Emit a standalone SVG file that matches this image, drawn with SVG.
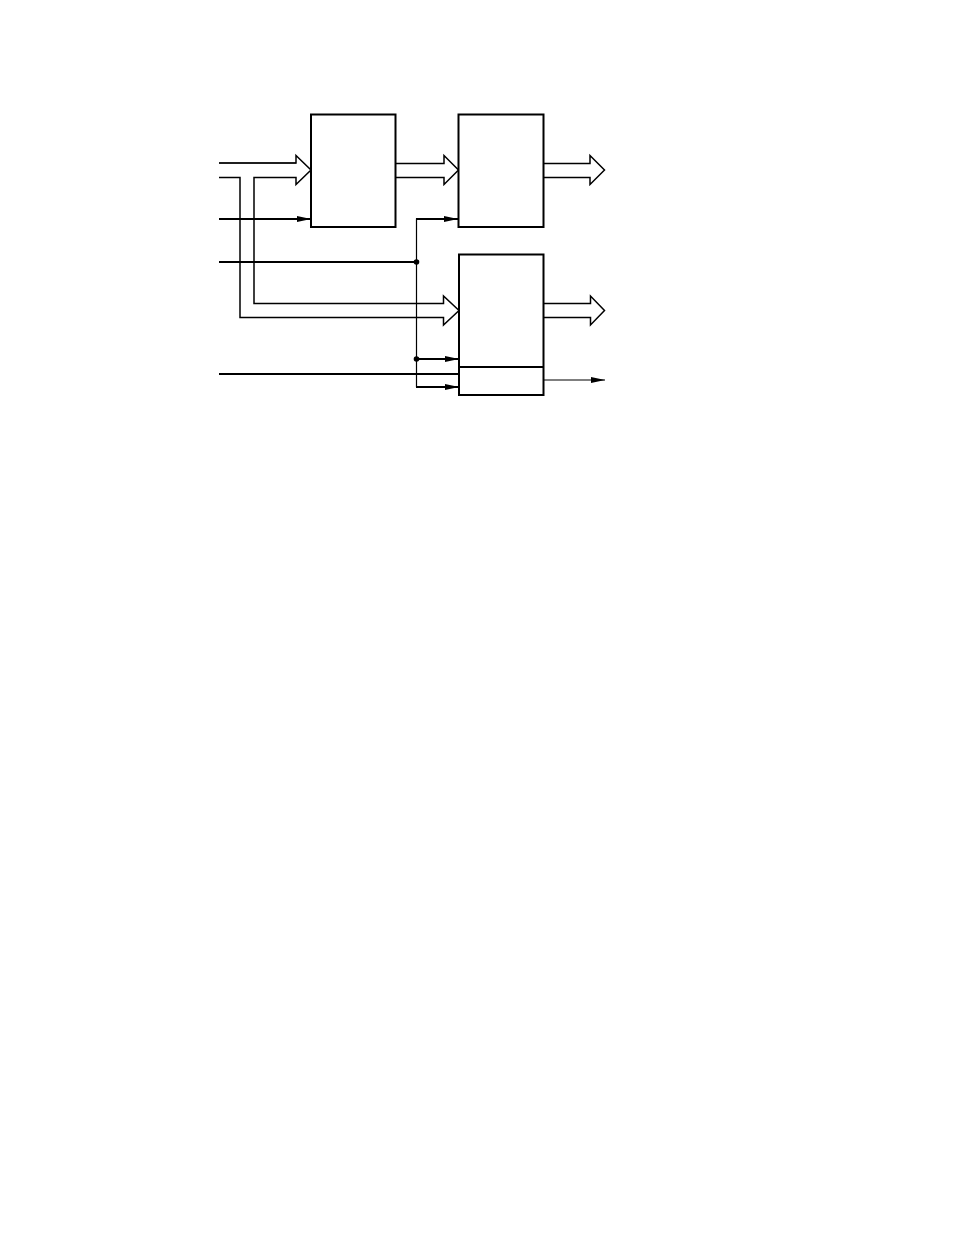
<svg xmlns="http://www.w3.org/2000/svg" width="954" height="1235" viewBox="0 0 954 1235">
<style>
.box{fill:#fff;stroke:#000;stroke-width:2}
.bus{fill:#fff;stroke:#000;stroke-width:1.5;stroke-linejoin:miter}
.w{fill:none;stroke:#000;stroke-width:2}
.t{fill:none;stroke:#000;stroke-width:1.2}
.dot{fill:#000}
</style>
<defs>
<marker id="ah" markerWidth="14" markerHeight="8" refX="14" refY="4" orient="auto" markerUnits="userSpaceOnUse">
<path d="M0,1 L14,4 L0,7 Z" fill="#000"/>
</marker>
</defs>
<rect width="954" height="1235" fill="#fff"/>
<g id="connectors">
<!-- bus into box1 -->
<path class="bus" d="M219,163 H296 V155.5 L311,170 L296,184.5 V177.5 H254 V303.5 H443.5 V296 L459,310.5 L443.5,325 V317.5 H240 V177.5 H219" fill="none"/>
<line class="t" x1="219" y1="163" x2="296" y2="163"/>
<!-- bus box1 to box2 -->
<path class="bus" d="M395,163.5 H444 V155.5 L458.5,170 L444,184.5 V177.5 H395 Z"/>
<!-- bus box2 out -->
<path class="bus" d="M543,163.5 H590 V155.5 L604.5,170 L590,184.5 V177.5 H543 Z"/>
<!-- bus box3 out -->
<path class="bus" d="M543,303.5 H590.5 V296 L604.5,310.5 L590.5,325 V317.5 H543 Z"/>
<!-- single lines -->
<line class="w" x1="219" y1="219" x2="311" y2="219" marker-end="url(#ah)"/>
<line class="w" x1="219" y1="262" x2="416" y2="262"/>
<polyline class="t" points="458,219 416.5,219 416.5,387"/>
<line class="w" x1="416" y1="219" x2="458" y2="219" marker-end="url(#ah)"/>
<line class="w" x1="416" y1="359" x2="459" y2="359" marker-end="url(#ah)"/>
<line class="w" x1="416" y1="387" x2="459" y2="387" marker-end="url(#ah)"/>
<line class="w" x1="219" y1="374" x2="459" y2="374"/>
<line class="t" x1="543" y1="380" x2="605" y2="380" marker-end="url(#ah)"/>
<circle class="dot" cx="416.5" cy="262" r="2.8"/>
<circle class="dot" cx="416.5" cy="359" r="2.8"/>
</g>
<g id="box1"><rect class="box" x="311" y="114.5" width="84.5" height="112.5"/></g>
<g id="box2"><rect class="box" x="458.5" y="114.5" width="85" height="112.5"/></g>
<g id="box3"><rect class="box" x="459" y="254.5" width="84.5" height="140.5"/><line class="w" x1="459" y1="367" x2="543.5" y2="367"/></g>
</svg>
